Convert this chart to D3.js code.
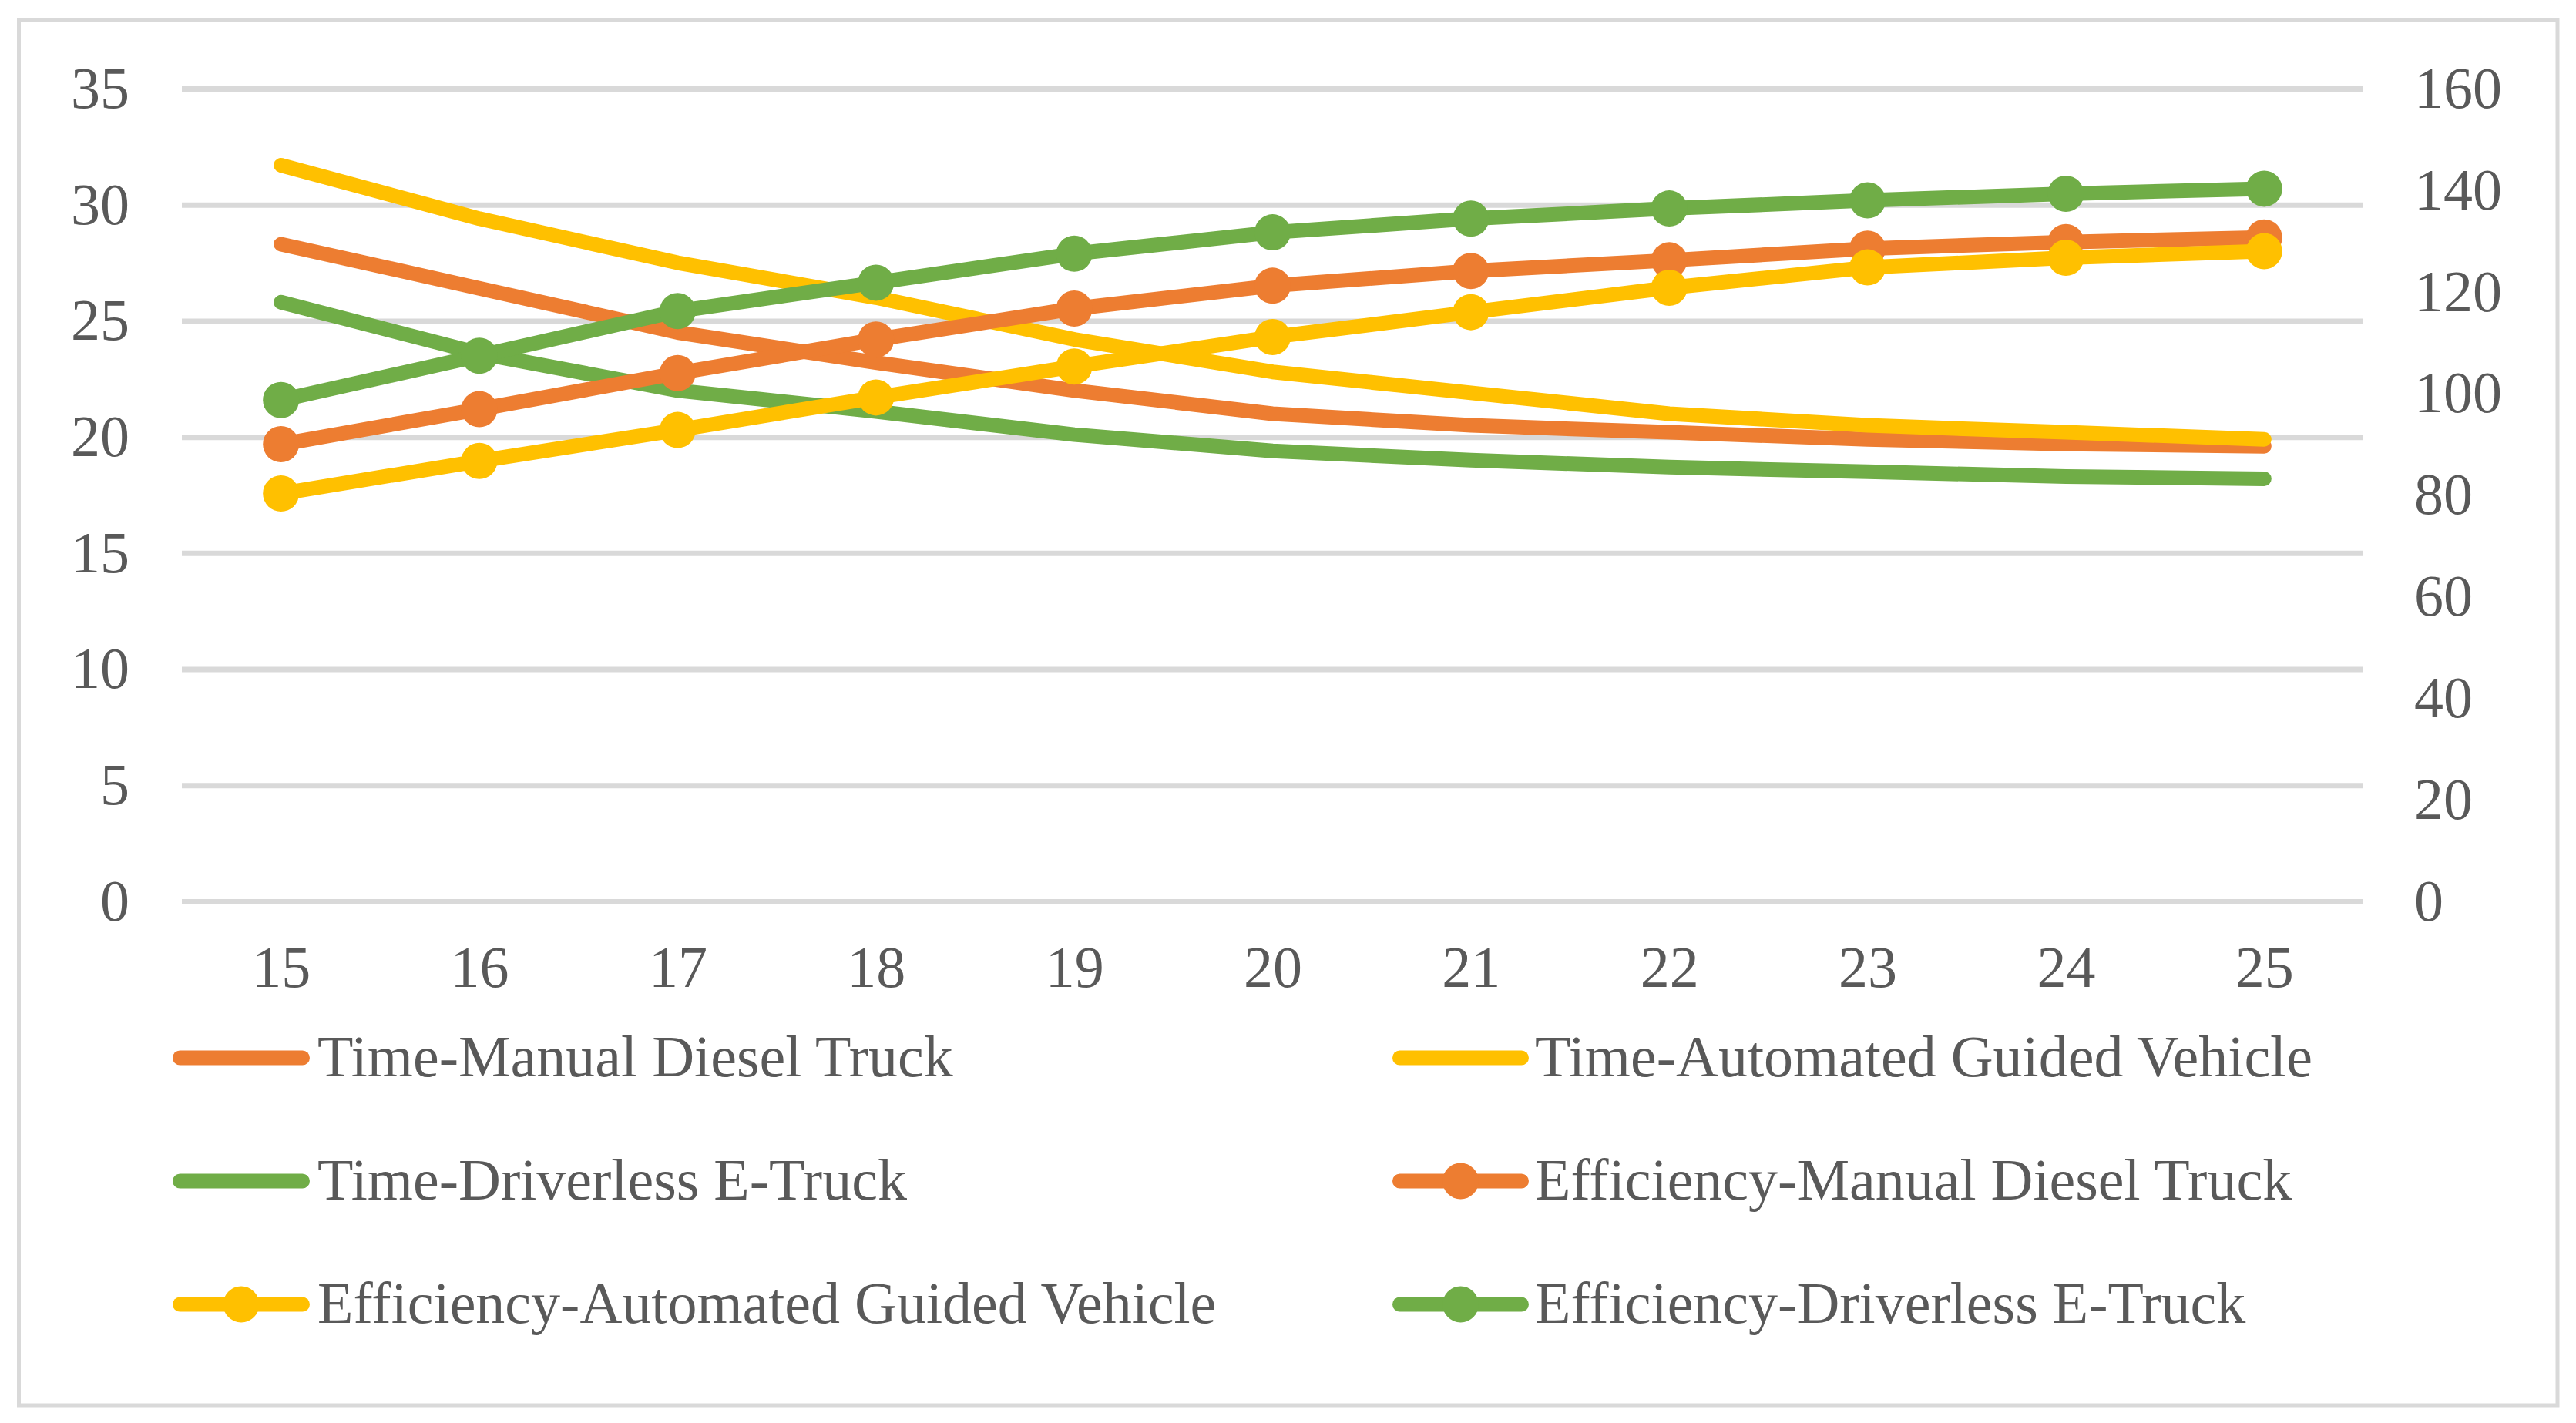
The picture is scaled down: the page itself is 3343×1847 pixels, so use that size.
<!DOCTYPE html>
<html>
<head>
<meta charset="utf-8">
<script src="https://cdn.jsdelivr.net/npm/d3@7"></script>
<style>
  body { margin: 0; background: #ffffff; }
  text { font-family: "Times New Roman", "Liberation Serif", serif; fill: #595959; }
</style>
</head>
<body>
<div id="chart"></div>
<script>
// data
var categories = [15, 16, 17, 18, 19, 20, 21, 22, 23, 24, 25];
var timeManual = [28.3, 26.4, 24.5, 23.2, 22.0, 21.0, 20.5, 20.2, 19.9, 19.7, 19.6];
var timeAGV = [31.7, 29.4, 27.5, 26.0, 24.2, 22.8, 21.9, 21.0, 20.5, 20.2, 19.9];
var timeDriverless = [25.8, 23.6, 22.0, 21.1, 20.1, 19.4, 19.0, 18.7, 18.5, 18.3, 18.2];
var effManual = [90.0, 96.9, 104.0, 110.6, 116.7, 121.2, 124.1, 126.2, 128.5, 129.8, 130.7];
var effAGV = [80.3, 86.7, 92.8, 99.2, 105.3, 111.1, 116.0, 120.8, 124.8, 126.7, 128.0];
var effDriverless = [98.7, 107.4, 116.2, 121.8, 127.5, 131.7, 134.4, 136.4, 138.0, 139.3, 140.3];
var leftTicks = [0, 5, 10, 15, 20, 25, 30, 35];
var rightTicks = [0, 20, 40, 60, 80, 100, 120, 140, 160];

var svgWidth = 3343;
var svgHeight = 1847;

// plot area
var plot = { left: 236, right: 3067, top: 115, bottom: 1170 };
var fontSize = "76px";

var orange = "#ED7D31";
var yellow = "#FFC000";
var green = "#70AD47";

var series = [
  { name: "Time-Manual Diesel Truck", values: timeManual, color: orange, axis: "left", marker: false },
  { name: "Time-Automated Guided Vehicle", values: timeAGV, color: yellow, axis: "left", marker: false },
  { name: "Time-Driverless E-Truck", values: timeDriverless, color: green, axis: "left", marker: false },
  { name: "Efficiency-Manual Diesel Truck", values: effManual, color: orange, axis: "right", marker: true },
  { name: "Efficiency-Automated Guided Vehicle", values: effAGV, color: yellow, axis: "right", marker: true },
  { name: "Efficiency-Driverless E-Truck", values: effDriverless, color: green, axis: "right", marker: true }
];

var svg = d3.select("#chart")
  .append("svg")
  .attr("width", svgWidth)
  .attr("height", svgHeight);

svg.append("rect")
  .attr("width", svgWidth)
  .attr("height", svgHeight)
  .attr("fill", "#ffffff");

// chart border
svg.append("rect")
  .attr("x", 24.5)
  .attr("y", 25.5)
  .attr("width", 3319 - 24.5)
  .attr("height", 1824 - 25.5)
  .attr("fill", "none")
  .attr("stroke", "#D9D9D9")
  .attr("stroke-width", 5);

var xScale = d3.scalePoint()
  .domain(categories)
  .range([plot.left, plot.right])
  .padding(0.5);

var yLeft = d3.scaleLinear()
  .domain([0, 35])
  .range([plot.bottom, plot.top]);

var yRight = d3.scaleLinear()
  .domain([0, 160])
  .range([plot.bottom, plot.top]);

// gridlines
svg.append("g")
  .attr("transform", `translate(${plot.left}, 0)`)
  .call(d3.axisLeft(yLeft).tickValues(leftTicks).tickSize(-(plot.right - plot.left)).tickFormat(""))
  .call(g => g.select(".domain").remove())
  .call(g => g.selectAll("line").attr("stroke", "#D9D9D9").attr("stroke-width", 7));

// left axis labels
svg.append("g")
  .attr("transform", `translate(${plot.left}, 0)`)
  .call(d3.axisLeft(yLeft).tickValues(leftTicks).tickSize(0).tickPadding(68))
  .call(g => g.select(".domain").remove())
  .call(g => g.selectAll("text").style("font-size", fontSize).attr("fill", "#595959")
    .style("font-family", "'Times New Roman', 'Liberation Serif', serif"));

// right axis labels
svg.append("g")
  .attr("transform", `translate(${plot.right}, 0)`)
  .call(d3.axisRight(yRight).tickValues(rightTicks).tickSize(0).tickPadding(66))
  .call(g => g.select(".domain").remove())
  .call(g => g.selectAll("text").style("font-size", fontSize).attr("fill", "#595959")
    .style("font-family", "'Times New Roman', 'Liberation Serif', serif"));

// bottom axis labels
svg.append("g")
  .attr("transform", `translate(0, ${plot.bottom})`)
  .call(d3.axisBottom(xScale).tickSize(0).tickPadding(57))
  .call(g => g.select(".domain").remove())
  .call(g => g.selectAll("text").style("font-size", fontSize).attr("fill", "#595959")
    .style("font-family", "'Times New Roman', 'Liberation Serif', serif"));

// lines and markers
series.forEach(function (s) {
  var y = s.axis === "left" ? yLeft : yRight;
  var line = d3.line()
    .x((d, i) => xScale(categories[i]))
    .y(d => y(d));

  svg.append("path")
    .datum(s.values)
    .attr("d", line)
    .attr("fill", "none")
    .attr("stroke", s.color)
    .attr("stroke-width", 19)
    .attr("stroke-linecap", "round")
    .attr("stroke-linejoin", "round");

  if (s.marker) {
    svg.append("g")
      .selectAll("circle")
      .data(s.values)
      .enter()
      .append("circle")
      .attr("cx", (d, i) => xScale(categories[i]))
      .attr("cy", d => y(d))
      .attr("r", 23.5)
      .attr("fill", s.color);
  }
});

// legend, two columns by three rows
var legendCols = [{ x1: 224, x2: 402, tx: 412 }, { x1: 1807, x2: 1984, tx: 1992 }];
var legendRows = [1373, 1533, 1693];

var legend = svg.append("g");
series.forEach(function (s, i) {
  var col = legendCols[i % 2];
  var rowY = legendRows[Math.floor(i / 2)];
  var item = legend.append("g");

  item.append("line")
    .attr("x1", col.x1 + 9.5)
    .attr("x2", col.x2 - 9.5)
    .attr("y1", rowY)
    .attr("y2", rowY)
    .attr("stroke", s.color)
    .attr("stroke-width", 19)
    .attr("stroke-linecap", "round");

  if (s.marker) {
    item.append("circle")
      .attr("cx", (col.x1 + col.x2) / 2)
      .attr("cy", rowY)
      .attr("r", 23.5)
      .attr("fill", s.color);
  }

  item.append("text")
    .attr("x", col.tx)
    .attr("y", rowY + 24)
    .style("font-size", fontSize)
    .text(s.name);
});
</script>
</body>
</html>
